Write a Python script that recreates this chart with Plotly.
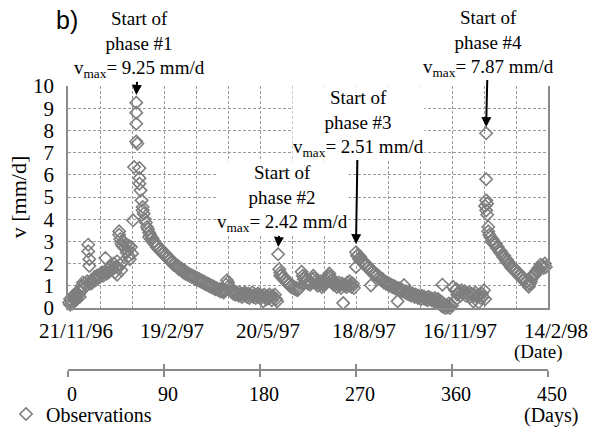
import plotly.graph_objects as go

# ---- observed velocities (day since 21/11/96, v in mm/d) ----
days_pre = [1, 2, 2, 3, 4, 4, 5, 6, 6, 7, 8, 8, 9, 10, 11, 11, 12, 13, 14, 14,
            15, 16, 17, 18, 19, 19, 20, 20, 21, 22, 23, 24, 25, 26, 27, 28, 29, 30,
            31, 32, 33, 35, 35, 36, 37, 38, 39, 40, 41, 42, 43, 44, 45, 46, 46, 47,
            48, 48, 49, 49, 50, 50, 51, 51, 52, 53, 54, 55, 56, 57, 57, 58, 59, 60, 61]
v_pre = [0.25, 0.4, 0.15, 0.3, 0.5, 0.2, 0.45, 0.6, 0.35, 0.5, 0.7, 0.4, 0.55, 0.6, 0.8, 0.5,
         0.75, 1.0, 1.15, 0.85, 0.9, 1.1, 1.0, 1.2, 2.85, 2.55, 2.2, 1.9, 1.1, 1.25, 1.15, 1.3,
         1.4, 1.25, 1.45, 1.35, 1.5, 1.4, 1.55, 1.6, 1.45, 2.25, 1.65, 1.55, 1.75, 1.6, 1.85, 1.7,
         1.9, 1.75, 2.0, 1.6, 1.85, 2.1, 1.5, 1.8, 3.45, 3.3, 3.1, 1.95, 2.9, 1.7, 2.8, 2.05,
         3.0, 2.7, 2.85, 2.5, 2.6, 2.35, 2.8, 2.2, 2.75, 2.45, 3.95]

days_p1 = [62, 64, 64, 64, 64, 65, 67, 67, 67, 68, 69, 70, 70, 71, 72, 73, 74, 75, 76, 76,
           77, 78, 79, 80, 81, 82, 83, 84, 85, 86, 87, 88, 89, 90, 91, 92, 93, 94, 95, 96,
           97, 98, 99, 100, 101, 102, 103, 104, 105, 106, 107, 108, 109, 110, 111, 112, 113,
           114, 115, 116, 117, 118, 119, 120, 121, 122, 123, 124, 125, 126, 127, 128, 129,
           130, 131, 132, 133, 134, 135, 136, 137, 138, 139, 140, 141, 142, 143, 144, 145,
           146, 147, 148, 149, 150, 151, 152, 153, 154, 155, 156, 157, 158, 159, 160, 161,
           162, 163, 164, 165, 166, 167, 168, 169, 170, 171, 172, 173, 174, 175, 176, 177,
           178, 179, 180, 181, 182, 183, 184, 185, 186, 187, 188, 189, 190, 191, 192, 193,
           194, 195, 196]
v_p1 = [6.35, 9.25, 8.8, 8.3, 7.5, 7.4, 6.3, 5.85, 5.6, 5.3, 4.85, 4.55, 4.4, 4.25, 4.0, 3.85,
        3.65, 3.55, 3.4, 3.2, 3.3, 3.1, 3.15, 2.95, 3.0, 2.85, 2.75, 2.8, 2.65, 2.7, 2.55, 2.6,
        2.45, 2.5, 2.35, 2.4, 2.25, 2.3, 2.15, 2.2, 2.05, 2.1, 1.95, 2.0, 1.9, 1.85, 1.9, 1.75,
        1.8, 1.7, 1.75, 1.6, 1.7, 1.55, 1.6, 1.5, 1.55, 1.45, 1.5, 1.4, 1.45, 1.35, 1.4, 1.3,
        1.35, 1.25, 1.3, 1.2, 1.25, 1.15, 1.2, 1.1, 1.15, 1.05, 1.1, 1.0, 1.05, 0.95, 1.0, 0.9,
        0.95, 0.85, 0.9, 0.85, 0.8, 0.85, 0.75, 0.8, 0.75, 0.7, 0.8, 1.05, 1.25, 1.15, 1.0, 0.9,
        0.75, 0.7, 0.65, 0.75, 0.6, 0.7, 0.65, 0.55, 0.7, 0.6, 0.5, 0.65, 0.55, 0.7, 0.6, 0.5,
        0.65, 0.45, 0.6, 0.55, 0.7, 0.5, 0.6, 0.45, 0.55, 0.65, 0.5, 0.6, 0.45, 0.55, 0.3, 0.6,
        0.5, 0.4, 0.55, 0.45, 0.6, 0.5, 0.35, 0.55, 0.45, 0.6, 0.4, 0.3]

days_p2 = [197, 198, 199, 199, 200, 201, 202, 203, 204, 205, 206, 207, 208, 209, 210, 211,
           212, 213, 214, 215, 216, 217, 219, 220, 221, 222, 223, 224, 225, 226, 227, 228,
           229, 230, 231, 232, 233, 234, 235, 236, 237, 238, 239, 240, 241, 242, 243, 244,
           245, 246, 247, 248, 249, 250, 251, 252, 253, 254, 255, 256, 257, 258, 259, 260,
           261, 262, 263, 264, 265, 266, 267, 268]
v_p2 = [2.42, 1.75, 1.6, 1.45, 1.5, 1.35, 1.4, 1.25, 1.3, 1.15, 1.2, 1.05, 1.1, 0.95, 1.0, 0.9,
        0.95, 0.85, 0.9, 0.8, 0.85, 0.9, 1.63, 1.45, 1.3, 1.4, 1.2, 1.25, 1.1, 1.2, 1.05, 1.15,
        1.3, 1.45, 1.35, 1.2, 1.1, 1.0, 1.15, 1.05, 1.2, 0.95, 1.1, 1.0, 1.15, 1.25, 1.35, 1.45,
        1.55, 1.4, 1.25, 1.15, 1.05, 1.2, 1.1, 0.95, 1.05, 1.15, 1.0, 0.9, 1.1, 0.22, 1.0, 1.05,
        0.95, 1.15, 1.0, 1.2, 1.05, 0.95, 1.1, 0.9]

days_p3 = [270, 270, 271, 272, 273, 274, 275, 276, 277, 278, 279, 280, 281, 282, 283, 284,
           284, 285, 286, 287, 288, 289, 290, 291, 292, 293, 294, 295, 296, 297, 298, 299,
           300, 301, 302, 303, 304, 305, 306, 307, 308, 309, 310, 311, 312, 313, 314, 315,
           316, 317, 318, 319, 320, 321, 322, 323, 324, 325, 326, 327, 328, 329, 330, 331,
           332, 333, 334, 335, 336, 337, 338, 339, 340, 341, 342, 343, 344, 345, 346, 347,
           348, 349, 350, 351, 351, 352, 353, 354, 355, 356, 357, 358, 359, 360, 361, 362,
           363, 364, 365, 366, 367, 368, 369, 370, 371, 372, 373, 374, 375, 376, 377, 378,
           379, 380, 381, 382, 383, 384, 385, 386, 387, 388, 389, 390, 391]
v_p3 = [2.51, 1.85, 2.35, 2.4, 2.2, 2.3, 2.1, 2.15, 2.0, 2.05, 1.9, 1.95, 1.8, 1.85, 1.7, 1.02,
        1.75, 1.6, 1.65, 1.5, 1.55, 1.45, 1.5, 1.35, 1.4, 1.3, 1.25, 1.3, 1.15, 1.2, 1.1, 1.15,
        1.05, 1.1, 1.0, 1.05, 0.95, 1.0, 0.9, 0.95, 0.85, 0.3, 0.9, 0.8, 0.85, 0.75, 0.8, 1.03,
        0.7, 0.75, 0.65, 0.7, 0.6, 0.7, 0.55, 0.65, 0.6, 0.5, 0.6, 0.55, 0.45, 0.55, 0.5, 0.4,
        0.55, 0.45, 0.5, 0.4, 0.45, 0.35, 0.5, 0.4, 0.45, 0.35, 0.4, 0.3, 0.45, 0.35, 0.25, 0.4,
        0.2, 0.3, 0.1, 1.05, 0.25, 0.05, 0.15, 0.0, 0.1, 0.05, 0.2, 0.0, 0.15, 0.1, 0.95, 0.3,
        0.8, 0.85, 0.6, 0.7, 0.75, 0.55, 0.8, 0.65, 0.7, 0.75, 0.55, 0.65, 0.6, 0.7, 0.5, 0.65,
        0.55, 0.3, 0.6, 0.7, 0.5, 0.55, 0.25, 0.6, 0.45, 0.65, 0.5, 0.8, 0.4]

days_p4 = [391, 392, 392, 392, 392, 393, 393, 394, 394, 395, 396, 397, 398, 399, 400, 401,
           402, 403, 404, 405, 406, 407, 408, 409, 410, 411, 412, 413, 414, 415, 416, 417,
           418, 419, 420, 421, 422, 423, 424, 425, 426, 427, 428, 429, 430, 431, 432, 433,
           434, 435, 436, 437, 438, 439, 440, 441, 442, 443, 444, 445, 446, 447, 448]
v_p4 = [4.6, 7.87, 5.8, 4.85, 4.4, 4.7, 4.2, 3.65, 3.45, 3.3, 3.2, 3.0, 3.1, 2.95, 2.85, 2.9,
        2.7, 2.75, 2.6, 2.5, 2.55, 2.4, 2.3, 2.35, 2.2, 2.1, 2.15, 2.0, 1.95, 1.85, 1.9, 1.75,
        1.8, 1.65, 1.7, 1.55, 1.6, 1.45, 1.5, 1.35, 1.4, 1.25, 1.3, 1.15, 1.2, 1.05, 0.96, 1.1,
        1.2, 1.35, 1.45, 1.55, 1.5, 1.65, 1.7, 1.8, 1.75, 1.95, 1.85, 1.9, 1.8, 2.0, 1.85]

# ---- axis ticks ----
day_ticks = [0, 90, 180, 270, 360, 450]
date_labels = ["21/11/96", "19/2/97", "20/5/97", "18/8/97", "16/11/97", "14/2/98"]
grid_days = [0, 30, 60, 90, 120, 150, 180, 210, 240, 270, 300, 330, 360, 390, 420, 450]

# ---- phase starts: (day, v_max) ----
phase_names = ["#1", "#2", "#3", "#4"]
phase_day = [64, 197, 270, 392]
phase_vmax = [9.25, 2.42, 2.51, 7.87]

days = days_pre + days_p1 + days_p2 + days_p3 + days_p4
vel = v_pre + v_p1 + v_p2 + v_p3 + v_p4

SERIF = "Liberation Serif, Times New Roman, serif"
SANS = "Liberation Sans, Arial, sans-serif"
GRID = "#9a9a9a"
AXIS = "#8a8a8a"
MARK = "#7f7f7f"

# paper layout: margins and where the two horizontal axes sit
W, H = 599, 428
M_T, M_B, M_L, M_R = 86, 4, 68, 51
plot_h = H - M_T - M_B


def py(pixel_y):
    """convert a pixel row (from the top of the page) to paper y"""
    return (H - M_B - pixel_y) / plot_h


def px(pixel_x):
    return (pixel_x - M_L) / (W - M_L - M_R)


fig = go.Figure()
fig.add_trace(go.Scatter(
    x=days, y=vel, mode="markers", name="Observations",
    marker=dict(symbol="diamond-open", size=9.5, color=MARK,
                line=dict(width=1.6, color=MARK)),
    cliponaxis=False,
))

grid_text = [date_labels[day_ticks.index(d)] if d in day_ticks else "" for d in grid_days]

fig.update_layout(
    width=W, height=H,
    margin=dict(l=M_L, r=M_R, t=M_T, b=M_B, autoexpand=False),
    paper_bgcolor="white", plot_bgcolor="white",
    font=dict(family=SERIF, size=20, color="black"),
    showlegend=True,
    legend=dict(x=px(6), y=py(414), xanchor="left", yanchor="middle",
                font=dict(family=SERIF, size=20), itemwidth=30,
                bgcolor="rgba(0,0,0,0)", borderwidth=0),
    xaxis=dict(
        range=[0, 450], domain=[0, 1],
        tickmode="array", tickvals=grid_days, ticktext=grid_text,
        ticks="", showgrid=True, gridcolor=GRID, griddash="3px,2px", gridwidth=1,
        showline=True, linecolor=AXIS, linewidth=2,
        zeroline=False, tickfont=dict(size=21), ticklabelstandoff=3, ticklabelshift=8,
    ),
    yaxis=dict(
        range=[0, 10], domain=[py(308), 1], dtick=1,
        ticks="", showgrid=True, gridcolor=GRID, griddash="3px,2px", gridwidth=1,
        showline=True, linecolor=AXIS, linewidth=1.5, mirror=True,
        zeroline=False, tickfont=dict(size=21), ticklabelstandoff=8,
        title=dict(text="v [mm/d]", font=dict(size=22), standoff=0),
    ),
    xaxis2=dict(
        range=[0, 450], overlaying="x", anchor="free", position=py(370),
        tickmode="array", tickvals=day_ticks,
        ticks="outside", ticklen=6, tickwidth=1.5, tickcolor=AXIS,
        showline=True, linecolor=AXIS, linewidth=2, showgrid=False, zeroline=False,
        tickfont=dict(size=20), ticklabelstandoff=0, ticklabelshift=4,
    ),
    xaxis3=dict(
        range=[0, 450], overlaying="x", anchor="free", position=py(370),
        tickmode="array", tickvals=day_ticks,
        ticks="inside", ticklen=6, tickwidth=1.5, tickcolor=AXIS,
        showline=False, showgrid=False, zeroline=False, showticklabels=False,
    ),
)

# invisible carriers so the day axes are laid out
for ax in ("x2", "x3"):
    fig.add_trace(go.Scatter(x=[0, 450], y=[None, None], xaxis=ax, yaxis="y",
                             mode="markers", showlegend=False, hoverinfo="skip"))

# phase-start callouts: text offset (px) from the arrow tip, arrow tip lift (v units)
offsets = [(3, -50, 0.35), (4, -48, 0.33), (2, -121, 0.37), (2, -84, 0.28)]
for name, d, vm, (ax_, ay_, lift) in zip(phase_names, phase_day, phase_vmax, offsets):
    fig.add_annotation(
        x=d, y=vm + lift, xref="x", yref="y",
        text=f"Start of<br>phase {name}<br>v<sub>max</sub>= {vm:.2f} mm/d",
        showarrow=True, ax=ax_, ay=ay_, axref="pixel", ayref="pixel",
        arrowhead=2, arrowsize=1, arrowwidth=2, arrowcolor="black",
        font=dict(family=SERIF, size=19, color="black"),
        bgcolor="white", borderpad=0, align="center",
    )

fig.add_annotation(x=px(67), y=py(20), xref="paper", yref="paper", text="b)",
                   xanchor="center", yanchor="middle",
                   showarrow=False, font=dict(family=SANS, size=25))
fig.add_annotation(x=px(538), y=py(352), xref="paper", yref="paper", text="(Date)",
                   xanchor="center", yanchor="middle",
                   showarrow=False, font=dict(family=SERIF, size=19))
fig.add_annotation(x=px(551), y=py(415), xref="paper", yref="paper", text="(Days)",
                   xanchor="center", yanchor="middle",
                   showarrow=False, font=dict(family=SERIF, size=20))

fig.write_html("out.html")
